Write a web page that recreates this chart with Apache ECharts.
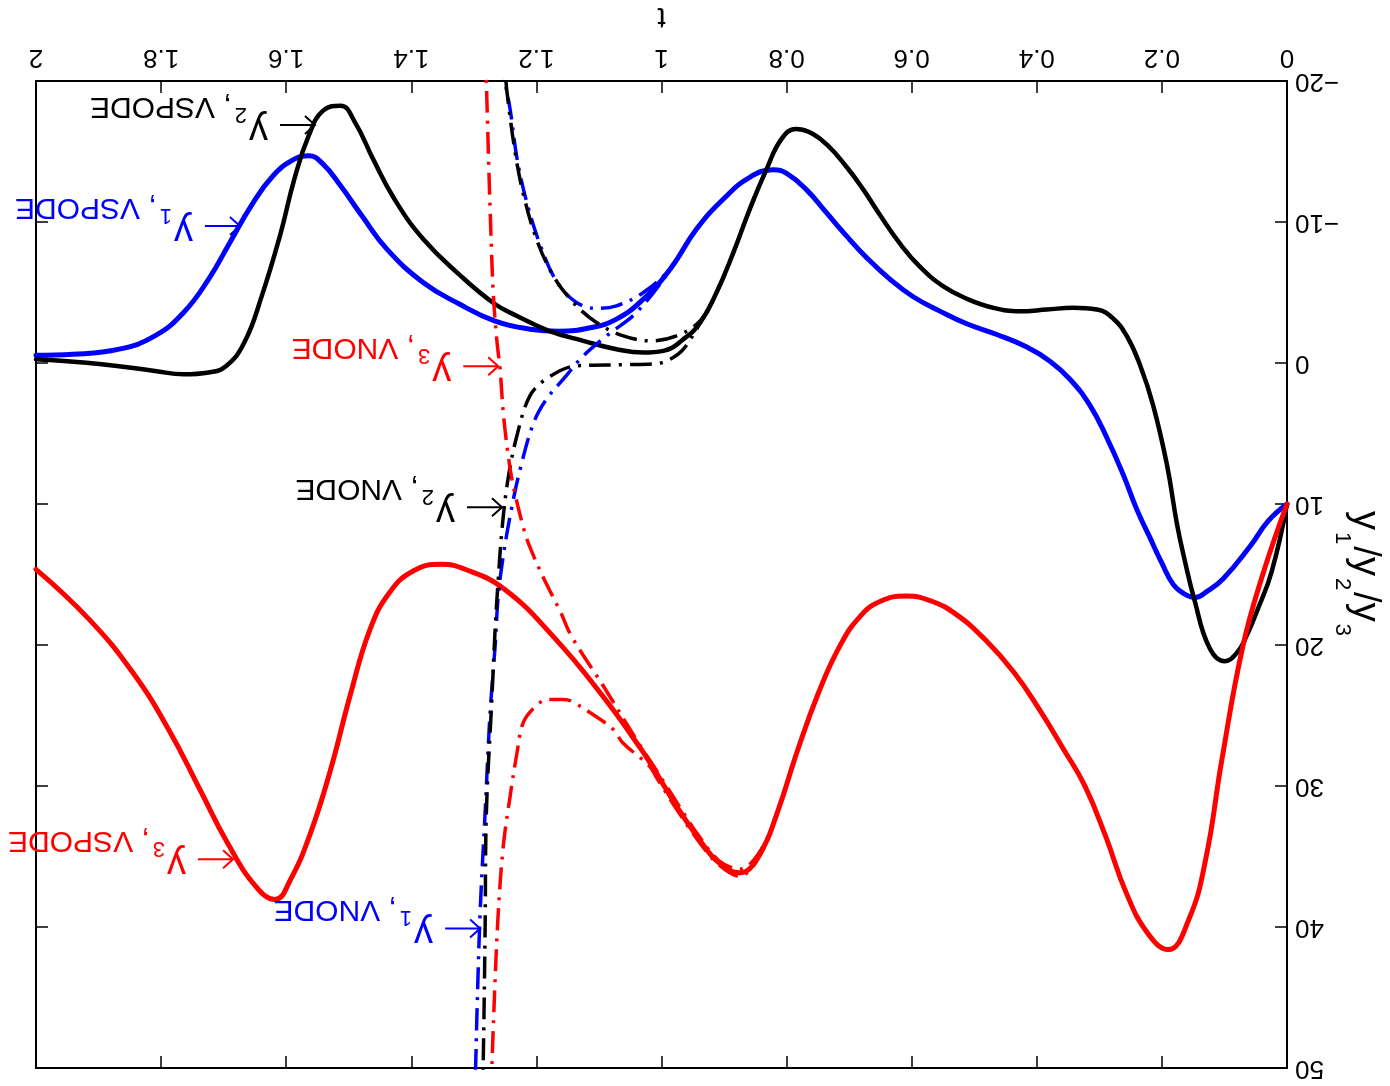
<!DOCTYPE html>
<html>
<head>
<meta charset="utf-8">
<script src="https://cdn.jsdelivr.net/npm/echarts@6/dist/echarts.min.js"></script>
<style>
html,body{margin:0;padding:0;background:#ffffff;}
#chart{width:1390px;height:1086px;}
</style>
</head>
<body>
<div id="chart"></div>
<script>
// ---- tick labels ----
const xTickLabels = ['0','0.2','0.4','0.6','0.8','1','1.2','1.4','1.6','1.8','2'];
const yTickLabels = ['\u221220','\u221210','0','10','20','30','40','50'];

// ---- VSPODE (solid) ----
const y1Vspode = [[0,10],[0.03,11.2],[0.059,13.0],[0.102,15.3],[0.128,16.2],[0.147,16.63],[0.165,16.35],[0.182,15.7],[0.2,14.2],[0.22,12.3],[0.24,10.4],[0.262,7.9],[0.288,5.3],[0.315,3.0],[0.347,1.15],[0.379,-0.13],[0.416,-1.13],[0.464,-2.02],[0.512,-2.78],[0.555,-3.68],[0.597,-4.68],[0.635,-5.95],[0.672,-7.47],[0.704,-9.0],[0.736,-10.64],[0.768,-12.28],[0.8,-13.45],[0.821,-13.7],[0.859,-13.17],[0.901,-11.63],[0.944,-9.5],[0.986,-6.66],[1.029,-4.53],[1.072,-3.11],[1.114,-2.5],[1.164,-2.25],[1.21,-2.4],[1.267,-2.99],[1.324,-4.2],[1.381,-5.71],[1.439,-8.08],[1.479,-10.44],[1.513,-12.57],[1.541,-14.1],[1.564,-14.7],[1.587,-14.46],[1.621,-13.28],[1.656,-11.15],[1.69,-8.55],[1.724,-5.95],[1.764,-3.58],[1.81,-1.92],[1.867,-0.98],[1.941,-0.62],[2,-0.55]];
const y2Vspode = [[0,10],[0.0245,14.8],[0.048,17.6],[0.064,19.3],[0.08,20.55],[0.1,21.15],[0.124,20.2],[0.148,16.8],[0.164,13.9],[0.176,11.4],[0.192,7.2],[0.214,3.0],[0.235,0.14],[0.256,-1.9],[0.278,-3.16],[0.304,-3.79],[0.342,-3.92],[0.384,-3.79],[0.427,-3.67],[0.47,-3.92],[0.512,-4.56],[0.55,-5.45],[0.587,-6.83],[0.619,-8.48],[0.651,-10.51],[0.677,-12.28],[0.704,-13.9],[0.736,-15.5],[0.765,-16.4],[0.785,-16.6],[0.808,-15.9],[0.832,-13.75],[0.859,-10.9],[0.885,-7.84],[0.912,-5.0],[0.938,-2.87],[0.965,-1.69],[0.997,-0.86],[1.029,-0.74],[1.072,-0.98],[1.125,-1.57],[1.18,-2.28],[1.231,-3.34],[1.267,-4.2],[1.324,-6.3],[1.381,-8.79],[1.427,-11.63],[1.461,-14.46],[1.49,-17.07],[1.513,-18.25],[1.541,-17.9],[1.564,-16.12],[1.587,-13.04],[1.61,-9.02],[1.639,-4.76],[1.667,-1.45],[1.696,0.21],[1.724,0.67],[1.764,0.8],[1.81,0.56],[1.895,0.09],[2,-0.26]];
const y3Vspode = [[0,10],[0.038,14.9],[0.0705,20.08],[0.104,28.1],[0.13,35.2],[0.157,39.47],[0.19,41.6],[0.223,40.42],[0.257,37.58],[0.29,33.56],[0.323,30.01],[0.357,27.41],[0.396,24.57],[0.436,21.97],[0.483,19.6],[0.529,17.83],[0.569,16.88],[0.609,16.53],[0.649,16.88],[0.682,17.95],[0.715,20.08],[0.749,23.39],[0.782,27.41],[0.815,31.9],[0.842,34.74],[0.875,36.16],[0.908,35.45],[0.941,33.7],[0.975,31.5],[1.008,29.1],[1.034,27.3],[1.094,23.62],[1.169,19.6],[1.251,16.05],[1.314,14.63],[1.352,14.28],[1.397,14.75],[1.435,16.29],[1.466,18.89],[1.498,23.62],[1.529,28.83],[1.561,33.32],[1.593,36.63],[1.618,38.05],[1.649,37.1],[1.694,34.03],[1.738,30.25],[1.788,25.99],[1.845,21.97],[1.915,18.18],[2,14.63]];

// ---- VNODE bounds (dash-dot) ----
const y1VnodeLow = [[0.635,-5.95],[0.672,-7.47],[0.704,-9.0],[0.736,-10.64],[0.768,-12.28],[0.8,-13.45],[0.821,-13.7],[0.859,-13.17],[0.901,-11.63],[0.944,-9.5],[0.986,-6.7],[1.029,-5.0],[1.072,-4.05],[1.104,-3.87],[1.136,-4.29],[1.168,-5.8],[1.195,-8.5],[1.216,-11.5],[1.231,-14.5],[1.242,-18.0],[1.25,-19.9],[1.253,-21]];
const y1VnodeHigh = [[0.635,-5.95],[0.672,-7.47],[0.704,-9.0],[0.736,-10.64],[0.768,-12.28],[0.8,-13.45],[0.821,-13.7],[0.859,-13.17],[0.901,-11.63],[0.944,-9.5],[0.986,-6.6],[1.04,-3.58],[1.088,-1.92],[1.125,-0.5],[1.157,1.15],[1.184,2.57],[1.205,4.3],[1.226,7.54],[1.24,10.38],[1.253,13.69],[1.261,16.53],[1.266,20.08],[1.274,24.8],[1.282,31.9],[1.29,39.0],[1.295,46.1],[1.297,49.65],[1.298,51]];
const y2VnodeLow = [[0.651,-10.51],[0.677,-12.28],[0.704,-13.9],[0.736,-15.5],[0.765,-16.4],[0.785,-16.6],[0.808,-15.9],[0.832,-13.75],[0.859,-10.9],[0.885,-7.84],[0.912,-5.0],[0.938,-3.0],[0.976,-1.92],[1.018,-1.57],[1.061,-1.92],[1.104,-2.87],[1.141,-4.29],[1.173,-6.18],[1.2,-8.8],[1.221,-12.0],[1.234,-14.94],[1.247,-19.2],[1.25,-20.8]];
const y2VnodeHigh = [[0.651,-10.51],[0.677,-12.28],[0.704,-13.9],[0.736,-15.5],[0.765,-16.4],[0.785,-16.6],[0.808,-15.9],[0.832,-13.75],[0.859,-10.9],[0.885,-7.84],[0.912,-5.0],[0.938,-2.87],[0.965,-0.98],[0.986,-0.27],[1.008,0.05],[1.06,0.12],[1.136,0.2],[1.18,1.0],[1.21,2.3],[1.232,5.3],[1.246,8.4],[1.255,11.8],[1.261,15.35],[1.266,18.9],[1.271,23.63],[1.28,31.9],[1.282,40.2],[1.285,49.65],[1.286,51]];
const y3VnodeLow = [[0.749,23.39],[0.782,27.41],[0.815,31.9],[0.842,34.6],[0.875,35.9],[0.908,35.3],[0.941,33.5],[0.975,31.2],[1.008,28.9],[1.036,27.0],[1.093,22.91],[1.144,19.37],[1.162,17.6],[1.188,15.3],[1.21,13.1],[1.22,11.8],[1.237,8.72],[1.245,6.59],[1.253,3.51],[1.258,0.44],[1.263,-1.5],[1.269,-5.0],[1.274,-10.9],[1.278,-16.8],[1.28,-19.9],[1.281,-21]];
const y3VnodeHigh = [[0.749,23.39],[0.782,27.41],[0.815,31.9],[0.842,34.9],[0.875,36.4],[0.908,35.6],[0.941,33.9],[0.975,31.7],[1.008,29.4],[1.019,28.6],[1.062,26.93],[1.077,25.99],[1.106,25.04],[1.144,23.98],[1.157,23.86],[1.182,23.86],[1.2,24.3],[1.221,25.5],[1.231,27.64],[1.242,30.72],[1.253,34.27],[1.261,39.0],[1.266,43.73],[1.271,49.65],[1.272,51]];

// ---- annotations: text pieces and the data point the arrow touches ----
const annotationSubs  = ['2','1','3','2','3','1'];
const annotationRest  = [', VSPODE',', VSPODE',', VNODE',', VNODE',', VSPODE',', VNODE'];
const annotationAt    = [[1.554,-16.88],[1.674,-9.71],[1.261,0.23],[1.255,10.23],[1.685,35.2],[1.290,40.1]];
const annotationColor = ['#000000','#0000ff','#ff0000','#000000','#ff0000','#0000ff'];

const FONT = "'Liberation Sans', Arial, Helvetica, sans-serif";
const BLUE = '#0000ff', RED = '#ff0000', BLACK = '#000000';

const chart = echarts.init(document.getElementById('chart'), null, {renderer:'canvas'});

function axisCommon(){
  return {
    axisLine:{show:true,onZero:false,lineStyle:{color:'#000',width:2}},
    axisTick:{show:true,inside:true,length:12,lineStyle:{color:'#000',width:1.5}},
    splitLine:{show:false}
  };
}

function solid(name, data, color, width){
  return {name, type:'line', data, xAxisIndex:0, yAxisIndex:0, showSymbol:false, symbol:'none',
    smooth:0.45, lineStyle:{color, width, cap:'round', join:'round'}, z:2, silent:true};
}
function dashdot(name, data, color){
  return {name, type:'line', data, xAxisIndex:0, yAxisIndex:0, showSymbol:false, symbol:'none',
    smooth:0.35, lineStyle:{color, width:3.5, type:[22,8,3,8]}, z:3, silent:true};
}

const option = {
  animation:false,
  backgroundColor:'#ffffff',
  grid:{left:36,right:103,top:81,bottom:18,containLabel:false,outerBoundsMode:'none'},
  xAxis:[
    Object.assign({type:'value',min:0,max:2,interval:0.2,inverse:true,position:'top',
      name:'t',nameLocation:'middle',nameGap:50,nameRotate:180,nameMoveOverlap:false,
      nameTextStyle:{fontSize:30,color:'#000',fontFamily:FONT},
      axisLabel:{show:true,rotate:180,margin:11,fontSize:26,color:'#000',fontFamily:FONT,
        formatter:function(v){return xTickLabels[Math.round(v/0.2)];}}}, axisCommon()),
    Object.assign({type:'value',min:0,max:2,interval:0.2,inverse:true,position:'bottom',
      axisLabel:{show:false}}, axisCommon())
  ],
  yAxis:[
    Object.assign({type:'value',min:-20,max:50,interval:10,inverse:true,position:'right',
      name:'{y|y}{s|1}{y|/y}{s|2}{y|/y}{s|3}',nameLocation:'middle',nameGap:44,nameRotate:-90,nameMoveOverlap:false,
      nameTextStyle:{color:'#000',fontFamily:FONT,fontSize:38,
        rich:{y:{fontSize:38,fontFamily:FONT,color:'#000'},
              s:{fontSize:22,fontFamily:FONT,color:'#000',padding:[44,2,0,2]}}},
      axisLabel:{show:true,rotate:180,margin:8,fontSize:26,color:'#000',fontFamily:FONT,
        formatter:function(v){return yTickLabels[Math.round((v+20)/10)];}}}, axisCommon()),
    Object.assign({type:'value',min:-20,max:50,interval:10,inverse:true,position:'left',
      axisLabel:{show:false}}, axisCommon())
  ],
  series:[
    solid('y1, VSPODE', y1Vspode, BLUE, 5),
    solid('y2, VSPODE', y2Vspode, BLACK, 4.5),
    solid('y3, VSPODE', y3Vspode, RED, 5),
    dashdot('y1, VNODE lower', y1VnodeLow, BLUE),
    dashdot('y1, VNODE upper', y1VnodeHigh, BLUE),
    dashdot('y2, VNODE lower', y2VnodeLow, BLACK),
    dashdot('y2, VNODE upper', y2VnodeHigh, BLACK),
    dashdot('y3, VNODE lower', y3VnodeLow, RED),
    dashdot('y3, VNODE upper', y3VnodeHigh, RED)
  ]
};
chart.setOption(option);

// annotations (arrow + upside-down label), anchored at data points
const graphics = [];
for (let i = 0; i < annotationAt.length; i++) {
  const p = chart.convertToPixel({seriesIndex:0}, annotationAt[i]);
  const px = p[0], py = p[1], c = annotationColor[i];
  graphics.push({type:'line', silent:true, z:10,
    shape:{x1:px-35,y1:py,x2:px,y2:py}, style:{stroke:c,lineWidth:2}});
  graphics.push({type:'polyline', silent:true, z:10,
    shape:{points:[[px-10,py-9],[px,py],[px-10,py+9]]}, style:{stroke:c,lineWidth:2,fill:null}});
  graphics.push({type:'text', silent:true, z:10, x:px-47, y:py+4, rotation:Math.PI,
    style:{text:'{y|y}{s|'+annotationSubs[i]+'}{r|'+annotationRest[i]+'}',
      align:'left', verticalAlign:'middle', fill:c, fontFamily:FONT, fontSize:30,
      rich:{
        y:{fontSize:38,fontFamily:FONT,fill:c},
        s:{fontSize:22,fontFamily:FONT,fill:c,padding:[30,3,0,2]},
        r:{fontSize:30,fontFamily:FONT,fill:c,padding:[46,0,0,0]}
      }}});
}
chart.setOption({graphic:graphics});
</script>
</body>
</html>
